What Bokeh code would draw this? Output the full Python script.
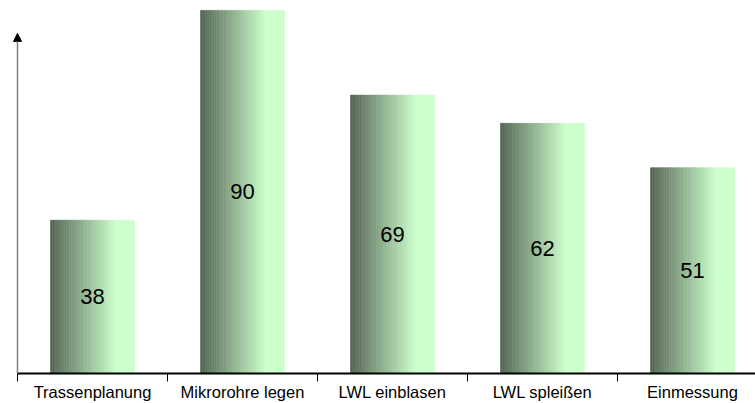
from bokeh.plotting import figure
from bokeh.models import Range1d, FixedTicker, Arrow, NormalHead, ColumnDataSource
from bokeh.core.properties import value
from bokeh.embed import file_html
from bokeh.resources import INLINE

categories = ["Trassenplanung", "Mikrorohre legen", "LWL einblasen", "LWL spleißen", "Einmessung"]
values = [38, 90, 69, 62, 51]

BAR_W = 0.56
N_STRIPS = 48
DARK = (84, 100, 84)
LIGHT = (204, 255, 204)

def grad(t):
    f = min(t / 0.78, 1.0)
    return "#%02x%02x%02x" % tuple(int(round(d + (l - d) * f)) for d, l in zip(DARK, LIGHT))

X_END = 738 / 150
p = figure(width=755, height=403, output_backend="svg", toolbar_location=None,
           x_range=Range1d(-10 / 150, X_END), y_range=Range1d(0, 92.45),
           min_border_left=7, min_border_right=0, min_border_top=0, min_border_bottom=0)
p.outline_line_color = None
p.grid.visible = False
p.yaxis.visible = False
p.background_fill_color = "white"
p.border_fill_color = "white"

# gradient bars drawn as thin vertical strips
lefts, rights, tops, colors = [], [], [], []
sw = BAR_W / N_STRIPS
for i, v in enumerate(values):
    x0 = i + 0.5 - BAR_W / 2
    for k in range(N_STRIPS):
        lefts.append(x0 + k * sw)
        rights.append(x0 + (k + 1) * sw)
        tops.append(v)
        colors.append(grad((k + 0.5) / N_STRIPS))
src = ColumnDataSource(dict(left=lefts, right=rights, top=tops, color=colors))
p.quad(left="left", right="right", bottom=0, top="top", source=src,
       fill_color="color", line_color="color", line_width=0.6)

# value labels
lab = ColumnDataSource(dict(x=[i + 0.5 for i in range(len(values))],
                            y=[v / 2 for v in values],
                            t=[str(v) for v in values]))
p.text(x="x", y="y", text="t", source=lab, text_align="center", text_baseline="middle",
       text_font=value("Liberation Sans"), text_font_size="22px", text_color="black")

# x axis with separators between categories
ax = p.xaxis[0]
ax.bounds = (0, X_END)
ax.ticker = FixedTicker(ticks=[i + 0.5 for i in range(len(categories))],
                        minor_ticks=list(range(len(categories))))
ax.major_label_overrides = {i + 0.5: c for i, c in enumerate(categories)}
ax.major_tick_out = 0
ax.major_tick_in = 0
ax.minor_tick_out = 8
ax.minor_tick_in = 0
ax.minor_tick_line_color = "black"
ax.axis_line_color = "black"
ax.axis_line_width = 2
ax.major_label_standoff = 1
ax.major_label_text_font = "Liberation Sans"
ax.major_label_text_font_size = "16.5px"
ax.major_label_text_color = "black"

# y axis arrow
p.add_layout(Arrow(end=NormalHead(size=8, fill_color="black", line_color="black", line_width=1),
                   x_start=0, y_start=0, x_end=0, y_end=84.3,
                   line_color="#7f7f7f", line_width=1.5))

open("out.html", "w").write(file_html(p, INLINE))
